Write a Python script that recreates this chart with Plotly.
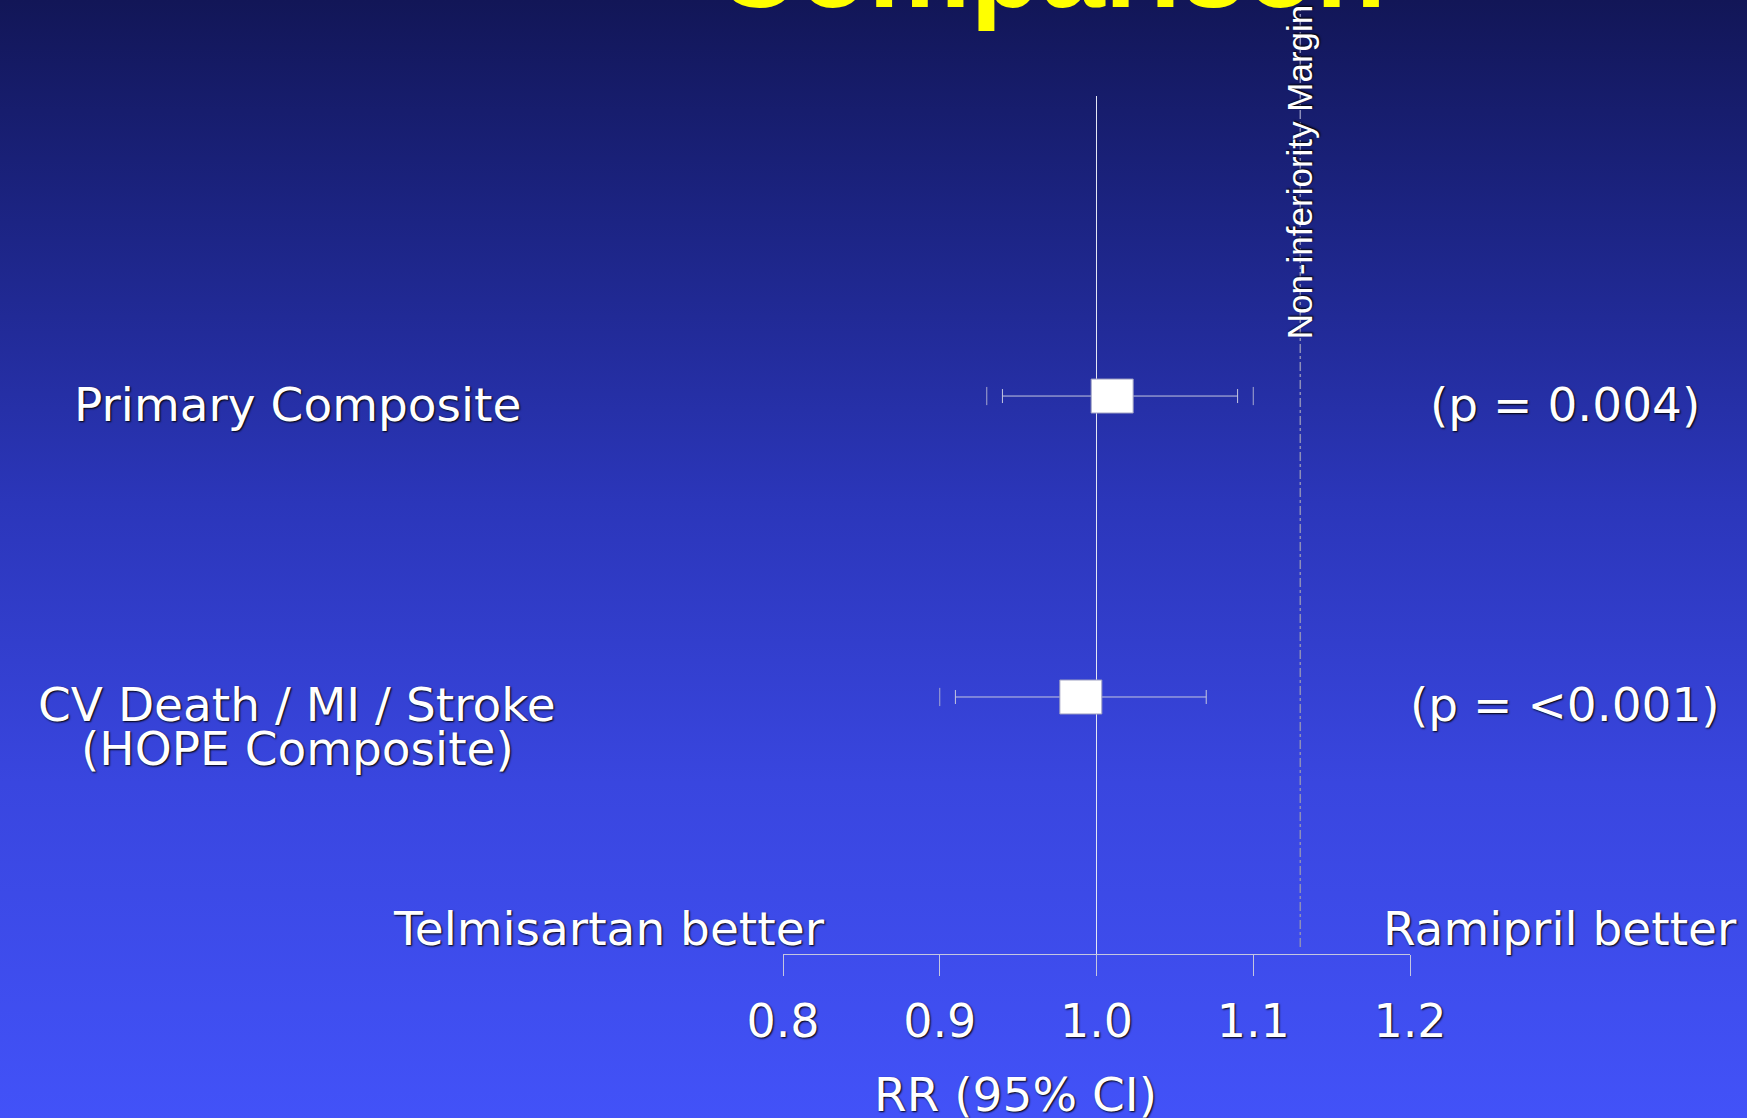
import base64
import plotly.graph_objects as go

# ---- data -------------------------------------------------------------
row_labels = [["Primary Composite"],
              ["CV Death / MI / Stroke", "(HOPE Composite)"]]
row_pos = [2, 1]
rr = [1.01, 0.99]
ci_lo = [0.94, 0.91]
ci_hi = [1.09, 1.07]
outer_lo = [0.93, 0.90]
outer_hi = [1.10, None]
p_text = ["(p = 0.004)", "(p = <0.001)"]
ni_margin = 1.13
tick_vals = [0.8, 0.9, 1.0, 1.1, 1.2]
tick_text = ["0.8", "0.9", "1.0", "1.1", "1.2"]

W, H = 1747, 1118
WHITE_FONT = "DejaVu Sans"
LINE_GREY = "#c4c6e0"
TEXT_SHADOW = "1px 1px 2px #000000"
LABEL_SIZE = 47


def px(x):
    return x / W


def py(y):
    return 1 - y / H


def white_font(size):
    return dict(family=WHITE_FONT, size=size, color="white", shadow=TEXT_SHADOW)


# ---- gradient background as an inline SVG image -----------------------
stops = [(0.00, "#121657"), (0.20, "#1c2484"), (0.45, "#2b36ba"),
         (0.70, "#3946df"), (1.00, "#4252f8")]
stop_xml = "".join(f'<stop offset="{o}" stop-color="{c}"/>' for o, c in stops)
svg = (f'<svg xmlns="http://www.w3.org/2000/svg" width="{W}" height="{H}" '
       f'viewBox="0 0 {W} {H}" preserveAspectRatio="none"><defs>'
       '<linearGradient id="g" x1="0" y1="0" x2="0" y2="1">'
       f'{stop_xml}</linearGradient></defs>'
       f'<rect width="{W}" height="{H}" fill="url(#g)"/></svg>')
bg_src = "data:image/svg+xml;base64," + base64.b64encode(svg.encode()).decode()

fig = go.Figure()

# confidence intervals (point + horizontal error bars)
fig.add_trace(go.Scatter(
    x=rr, y=row_pos, mode="markers",
    marker=dict(size=1, color="rgba(0,0,0,0)"),
    error_x=dict(type="data", symmetric=False,
                 array=[h - r for h, r in zip(ci_hi, rr)],
                 arrayminus=[r - l for r, l in zip(rr, ci_lo)],
                 color=LINE_GREY, thickness=1, width=7),
    showlegend=False, hoverinfo="skip"))

# outer limits drawn as small ticks
ox, oy = [], []
for lo, hi, y in zip(outer_lo, outer_hi, row_pos):
    for v in (lo, hi):
        if v is not None:
            ox.append(v)
            oy.append(y)
fig.add_trace(go.Scatter(
    x=ox, y=oy, mode="markers",
    marker=dict(symbol="line-ns-open", size=13, color="#a8aad0",
                line=dict(color="#a8aad0", width=1)),
    showlegend=False, hoverinfo="skip"))

shapes = [
    # line of no effect
    dict(type="line", xref="x", yref="y domain", x0=1.0, x1=1.0, y0=0, y1=1,
         line=dict(color="#e4e6f4", width=1), layer="below"),
    # non-inferiority margin
    dict(type="line", xref="x", yref="paper", x0=ni_margin, x1=ni_margin,
         y0=py(947), y1=py(10),
         line=dict(color="#8c8eb8", width=1.5, dash="dashdot"), layer="below"),
]
# point estimate boxes
for r, y in zip(rr, row_pos):
    shapes.append(dict(type="rect", xref="x", yref="y",
                       xsizemode="pixel", ysizemode="pixel",
                       xanchor=r, yanchor=y, x0=-21, x1=21, y0=-17, y1=17,
                       fillcolor="white", line=dict(color="#9a9cc0", width=1),
                       layer="above"))

annotations = [
    dict(text="Comparison", xref="paper", yref="paper", x=px(1050), y=py(33),
         xanchor="center", yanchor="bottom", showarrow=False,
         font=dict(family="Liberation Sans", size=115, color="#ffff00",
                   weight="bold")),
    dict(text="Non-inferiority Margin", xref="x", yref="paper", x=ni_margin,
         y=py(172), xanchor="center", yanchor="middle", showarrow=False,
         textangle=-90, xshift=-1,
         font=dict(family="Liberation Sans", size=35, color="white",
                   shadow=TEXT_SHADOW)),
    dict(text="Telmisartan better", xref="paper", yref="paper", x=px(609),
         y=py(928), xanchor="center", yanchor="middle", showarrow=False,
         font=white_font(LABEL_SIZE)),
    dict(text="Ramipril better", xref="paper", yref="paper", x=px(1560),
         y=py(928), xanchor="center", yanchor="middle", showarrow=False,
         font=white_font(LABEL_SIZE)),
    dict(text="RR (95% CI)", xref="paper", yref="paper", x=px(1015),
         y=py(1094), xanchor="center", yanchor="middle", showarrow=False,
         font=white_font(LABEL_SIZE)),
]
for lines, y, p in zip(row_labels, row_pos, p_text):
    for i, line in enumerate(lines):
        annotations.append(dict(
            text=line, xref="paper", yref="y", x=px(297), y=y,
            xanchor="center", yanchor="middle", yshift=-8 - 44 * i,
            showarrow=False, font=white_font(LABEL_SIZE)))
    annotations.append(dict(
        text=p, xref="paper", yref="y", x=px(1565), y=y,
        xanchor="center", yanchor="middle", yshift=-8, showarrow=False,
        font=white_font(LABEL_SIZE)))

fig.update_layout(
    width=W, height=H, autosize=False,
    margin=dict(l=0, r=0, t=0, b=0, pad=0, autoexpand=False),
    paper_bgcolor="#2d38be", plot_bgcolor="rgba(0,0,0,0)",
    images=[dict(source=bg_src, xref="paper", yref="paper", x=0, y=1,
                 sizex=1, sizey=1, xanchor="left", yanchor="top",
                 sizing="stretch", layer="below")],
    xaxis=dict(domain=[px(783), px(1410)], range=[0.8, 1.2],
               tickvals=tick_vals, ticktext=tick_text,
               ticks="outside", ticklen=21, tickwidth=1, tickcolor=LINE_GREY,
               showline=True, linecolor=LINE_GREY, linewidth=1,
               showgrid=False, zeroline=False, ticklabelstandoff=6,
               automargin=False, tickfont=white_font(46)),
    yaxis=dict(domain=[py(954), py(96)], range=[0.146, 2.997],
               visible=False, showgrid=False, zeroline=False,
               automargin=False),
    shapes=shapes, annotations=annotations, showlegend=False,
)

fig.write_html("out.html")
